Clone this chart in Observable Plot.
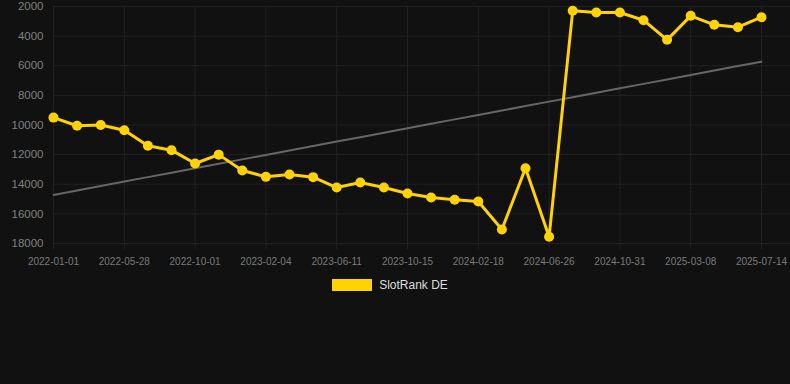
<!DOCTYPE html>
<html>
<head>
<meta charset="utf-8">
<script src="https://cdn.jsdelivr.net/npm/d3@7"></script>
<script src="https://cdn.jsdelivr.net/npm/@observablehq/plot@0.6"></script>
<style>
  html, body { margin: 0; padding: 0; background: #111111; }
  body { width: 790px; height: 384px; overflow: hidden; font-family: "Liberation Sans", Arial, sans-serif; }
  #legend { display: flex; justify-content: center; align-items: center; padding-right: 10px; margin-top: 13px; }
  #legend .sw { width: 40px; height: 12px; background: #FFD200; margin-right: 7px; }
  #legend .lb { color: #dddddd; font-size: 12px; }
</style>
</head>
<body>
<div id="chart"></div>
<div id="legend"><span class="sw"></span><span class="lb">SlotRank DE</span></div>
<script>
const dates = [
  "2022-01-01","2022-02-19","2022-04-09","2022-05-28","2022-07-09","2022-08-20",
  "2022-10-01","2022-11-12","2022-12-24","2023-02-04","2023-03-18","2023-04-29",
  "2023-06-11","2023-07-23","2023-09-03","2023-10-15","2023-11-26","2024-01-07",
  "2024-02-18","2024-03-31","2024-05-14","2024-06-26","2024-08-07","2024-09-19",
  "2024-10-31","2024-12-13","2025-01-24","2025-03-08","2025-04-20","2025-06-01",
  "2025-07-14"
];
const ranks = [
  9500, 10050, 10000, 10350, 11400, 11700,
  12600, 12000, 13070, 13500, 13340, 13520,
  14220, 13880, 14220, 14620, 14890, 15050,
  15160, 17050, 12920, 17550, 2290, 2405,
  2405, 2925, 4250, 2630, 3235, 3400,
  2720
];
const xTickIdx = dates.map((d, i) => i).filter(i => i % 3 === 0);
const yTicks = [2000, 4000, 6000, 8000, 10000, 12000, 14000, 16000, 18000];
const seriesName = "SlotRank DE";

// linear regression (trend) over index
const n = ranks.length;
const mi = (n - 1) / 2;
const mv = d3.mean(ranks);
let sxy = 0, sxx = 0;
ranks.forEach((v, i) => { sxy += (i - mi) * (v - mv); sxx += (i - mi) * (i - mi); });
const slope = sxy / sxx;
const rows = dates.map((d, i) => ({idx: i, date: d, rank: ranks[i], trend: mv + slope * (i - mi)}));

const gold = "#FFD200";
const gridColor = "#222222";

const chart = Plot.plot({
  width: 790,
  height: 265,
  marginLeft: 53,
  marginRight: 0,
  marginTop: 6,
  marginBottom: 22,
  insetRight: 29,
  style: {background: "#111111", color: "#808080", fontFamily: "\"Liberation Sans\", Arial, sans-serif", overflow: "visible"},
  x: {type: "linear", domain: [0, dates.length - 1]},
  y: {domain: [2000, 18000], reverse: true},
  marks: [
    Plot.gridY(yTicks, {stroke: gridColor, strokeOpacity: 1}),
    Plot.gridX(xTickIdx, {stroke: gridColor, strokeOpacity: 1}),
    Plot.axisY(yTicks, {tickSize: 0, tickPadding: 10, fontSize: 11.5, fill: "#808080", tickFormat: d => String(d), label: null}),
    Plot.axisX(xTickIdx, {tickSize: 6, tickPadding: 8, fontSize: 10, fill: "#7a7a7a", stroke: gridColor, tickFormat: i => dates[i], label: null}),
    Plot.line(rows, {x: "idx", y: "trend", stroke: "#666666", strokeWidth: 2}),
    Plot.line(rows, {x: "idx", y: "rank", stroke: gold, strokeWidth: 3}),
    Plot.dot(rows, {x: "idx", y: "rank", r: 5, fill: gold, title: d => `${seriesName} ${d.date}: ${d.rank}`})
  ]
});
document.getElementById("chart").appendChild(chart);
</script>
</body>
</html>
